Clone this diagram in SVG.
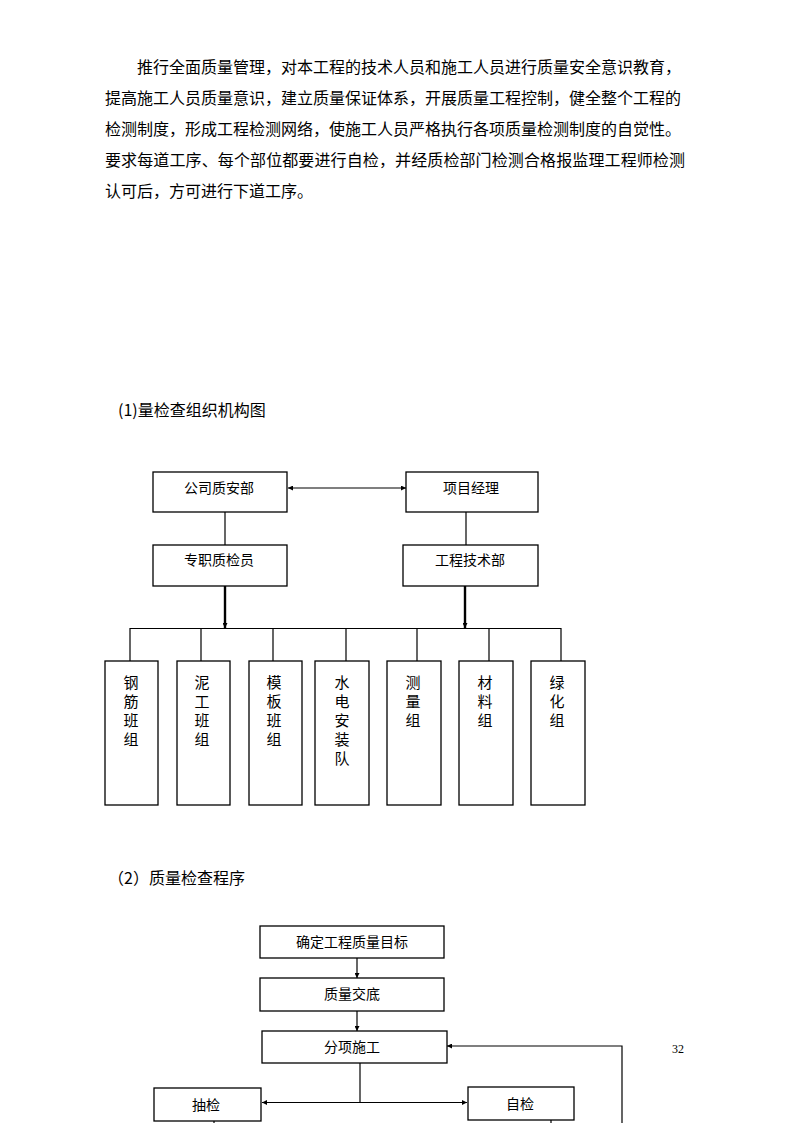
<svg xmlns="http://www.w3.org/2000/svg" width="794" height="1123" viewBox="0 0 794 1123">
<style>
text{font-family:"Noto Sans CJK SC","Liberation Sans",sans-serif;fill:#000}
.p{font-size:16px}
.h{font-size:16px}
.l{font-size:14px;text-anchor:middle}
.v{font-size:15px;text-anchor:middle}
.b{fill:#fff;stroke:#000;stroke-width:1.3}
.c{fill:none;stroke:#000;stroke-width:1.2}
.t{fill:none;stroke:#000;stroke-width:2.4}
</style>
<defs>
<marker id="a" markerUnits="userSpaceOnUse" markerWidth="5" markerHeight="5" refX="5" refY="2.5" orient="auto-start-reverse"><path d="M0,0L5,2.5L0,5z" fill="#000"/></marker>
</defs>
<rect width="794" height="1123" fill="#fff"/>
<g id="para">
<text class="p" x="137" y="73">推行全面质量管理，对本工程的技术人员和施工人员进行质量安全意识教育，</text>
<text class="p" x="105" y="104">提高施工人员质量意识，建立质量保证体系，开展质量工程控制，健全整个工程的</text>
<text class="p" x="105" y="135">检测制度，形成工程检测网络，使施工人员严格执行各项质量检测制度的自觉性。</text>
<text class="p" x="105" y="166" textLength="580" lengthAdjust="spacing">要求每道工序、每个部位都要进行自检，并经质检部门检测合格报监理工程师检测</text>
<text class="p" x="105" y="197">认可后，方可进行下道工序。</text>
</g>
<text class="h" x="118" y="416">(1)量检查组织机构图</text>
<text class="h" x="108" y="884">（2）质量检查程序</text>
<text x="672" y="1053" style="font-family:'Liberation Serif',serif;font-size:12px">32</text>
<g id="connectors">
<line class="c" x1="288" y1="488" x2="406" y2="488" marker-start="url(#a)" marker-end="url(#a)"/>
<line class="c" x1="225" y1="512" x2="225" y2="545"/>
<line class="c" x1="466" y1="512" x2="466" y2="545"/>
<line class="t" x1="225" y1="586" x2="225" y2="628" marker-end="url(#a)"/>
<line class="t" x1="465" y1="586" x2="465" y2="628" marker-end="url(#a)"/>
<line class="c" x1="130" y1="628.5" x2="561" y2="628.5"/>
<path class="c" d="M130,628V661M201,628V661M273,628V661M346,628V661M417,628V661M489,628V661M561,628V661"/>
<line class="c" x1="357" y1="958" x2="357" y2="978" marker-end="url(#a)"/>
<line class="c" x1="357" y1="1011" x2="357" y2="1031" marker-end="url(#a)"/>
<line class="c" x1="360" y1="1063" x2="360" y2="1102.5"/>
<line class="c" x1="360" y1="1102.5" x2="262" y2="1102.5" marker-end="url(#a)"/>
<line class="c" x1="360" y1="1102.5" x2="467" y2="1102.5" marker-end="url(#a)"/>
<path class="c" d="M622,1123V1046H447" marker-end="url(#a)"/>
<path class="c" d="M214,1120V1123M551,1120V1123"/>
</g>
<g id="n1"><rect class="b" x="153" y="472" width="134" height="40"/><text class="l" x="219" y="493">公司质安部</text></g>
<g id="n2"><rect class="b" x="406" y="472" width="132" height="40"/><text class="l" x="471" y="493">项目经理</text></g>
<g id="n3"><rect class="b" x="153" y="545" width="134" height="41"/><text class="l" x="219" y="565">专职质检员</text></g>
<g id="n4"><rect class="b" x="403" y="545" width="135" height="41"/><text class="l" x="470" y="565">工程技术部</text></g>
<g id="g1"><rect class="b" x="105" y="661" width="53" height="144"/><text class="v" x="131"><tspan x="131" y="688">钢</tspan><tspan x="131" y="707">筋</tspan><tspan x="131" y="726">班</tspan><tspan x="131" y="745">组</tspan></text></g>
<g id="g2"><rect class="b" x="177" y="661" width="53" height="144"/><text class="v" x="202"><tspan x="202" y="688">泥</tspan><tspan x="202" y="707">工</tspan><tspan x="202" y="726">班</tspan><tspan x="202" y="745">组</tspan></text></g>
<g id="g3"><rect class="b" x="249" y="661" width="53" height="144"/><text class="v" x="274"><tspan x="274" y="688">模</tspan><tspan x="274" y="707">板</tspan><tspan x="274" y="726">班</tspan><tspan x="274" y="745">组</tspan></text></g>
<g id="g4"><rect class="b" x="315" y="661" width="54" height="144"/><text class="v" x="342"><tspan x="342" y="688">水</tspan><tspan x="342" y="707">电</tspan><tspan x="342" y="726">安</tspan><tspan x="342" y="745">装</tspan><tspan x="342" y="764">队</tspan></text></g>
<g id="g5"><rect class="b" x="387" y="661" width="54" height="144"/><text class="v" x="413"><tspan x="413" y="688">测</tspan><tspan x="413" y="707">量</tspan><tspan x="413" y="726">组</tspan></text></g>
<g id="g6"><rect class="b" x="459" y="661" width="54" height="144"/><text class="v" x="485"><tspan x="485" y="688">材</tspan><tspan x="485" y="707">料</tspan><tspan x="485" y="726">组</tspan></text></g>
<g id="g7"><rect class="b" x="531" y="661" width="54" height="144"/><text class="v" x="557"><tspan x="557" y="688">绿</tspan><tspan x="557" y="707">化</tspan><tspan x="557" y="726">组</tspan></text></g>
<g id="f1"><rect class="b" x="260" y="926" width="184" height="32"/><text class="l" x="352" y="947">确定工程质量目标</text></g>
<g id="f2"><rect class="b" x="260" y="978" width="184" height="33"/><text class="l" x="352" y="999">质量交底</text></g>
<g id="f3"><rect class="b" x="262" y="1031" width="185" height="32"/><text class="l" x="352" y="1052">分项施工</text></g>
<g id="f4"><rect class="b" x="154" y="1088" width="107" height="33"/><text class="l" x="206" y="1110">抽检</text></g>
<g id="f5"><rect class="b" x="468" y="1087" width="106" height="33"/><text class="l" x="520" y="1109">自检</text></g>
</svg>
